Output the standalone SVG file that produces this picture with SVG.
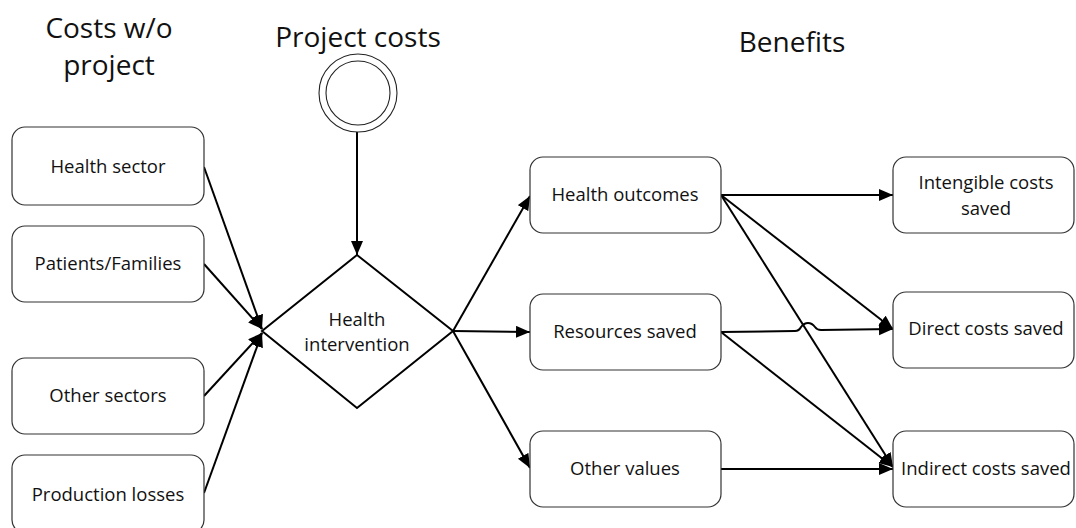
<svg xmlns="http://www.w3.org/2000/svg" width="1076" height="528" viewBox="0 0 1076 528">
  <style>
    .box { fill: #ffffff; stroke: #333333; stroke-width: 1.2; }
    .lbl { font-family: "Open Sans", "Liberation Sans", sans-serif; font-size: 18.5px; fill: #111111; text-anchor: middle; }
    .title { font-family: "Open Sans", "Liberation Sans", sans-serif; font-size: 28px; fill: #111111; text-anchor: middle; }
    .edge { fill: none; stroke: #000000; stroke-width: 2; marker-end: url(#arrow); }
    .diamond { fill: #ffffff; stroke: #000000; stroke-width: 2; }
    .ring { fill: #ffffff; stroke: #222222; stroke-width: 1.1; }
  </style>
  <defs>
    <marker id="arrow" markerUnits="userSpaceOnUse" markerWidth="15" markerHeight="13" refX="14" refY="6" orient="auto">
      <path d="M0,0 L14,6 L0,12 z" fill="#000000"/>
    </marker>
  </defs>

  <rect width="1076" height="528" fill="#ffffff"/>

  <!-- column headings -->
  <g id="headings">
    <text class="title" x="109" y="38">Costs w/o</text>
    <text class="title" x="109" y="75">project</text>
    <text class="title" x="358" y="47">Project costs</text>
    <text class="title" x="792" y="52">Benefits</text>
  </g>

  <!-- connectors -->
  <g id="connectors">
    <line class="edge" x1="204" y1="167" x2="262" y2="329"/>
    <line class="edge" x1="204" y1="264" x2="262" y2="329"/>
    <line class="edge" x1="204" y1="396" x2="262" y2="333"/>
    <line class="edge" x1="204" y1="493" x2="262" y2="333"/>
    <line class="edge" x1="357" y1="132" x2="357" y2="255"/>
    <line class="edge" x1="453" y1="331" x2="530" y2="196"/>
    <line class="edge" x1="453" y1="331" x2="530" y2="332"/>
    <line class="edge" x1="453" y1="331" x2="530" y2="468"/>
    <line class="edge" x1="721" y1="195" x2="893" y2="195"/>
    <line class="edge" x1="721" y1="195" x2="893" y2="329"/>
    <line class="edge" x1="721" y1="195" x2="893" y2="467"/>
    <!-- line jump over the Health outcomes -> Indirect costs connector -->
    <path class="edge" d="M721,332 L795,331 Q799,331 801,327 Q804,323 808,323 Q812,323 815,327 Q817,330 821,330 L893,329"/>
    <line class="edge" x1="721" y1="332" x2="893" y2="467"/>
    <line class="edge" x1="721" y1="469" x2="893" y2="469"/>
  </g>

  <!-- cost sources -->
  <g id="health-sector">
    <rect class="box" x="12" y="127" width="192" height="78" rx="13"/>
    <text class="lbl" x="108" y="173">Health sector</text>
  </g>
  <g id="patients-families">
    <rect class="box" x="12" y="226" width="192" height="76" rx="13"/>
    <text class="lbl" x="108" y="270">Patients/Families</text>
  </g>
  <g id="other-sectors">
    <rect class="box" x="12" y="358" width="192" height="76" rx="13"/>
    <text class="lbl" x="108" y="402">Other sectors</text>
  </g>
  <g id="production-losses">
    <rect class="box" x="12" y="455" width="192" height="78" rx="13"/>
    <text class="lbl" x="108" y="501">Production losses</text>
  </g>

  <!-- project cost start event -->
  <g id="project-costs">
    <circle class="ring" cx="358" cy="93" r="39"/>
    <circle class="ring" cx="358" cy="93" r="32"/>
  </g>

  <!-- intervention decision -->
  <g id="health-intervention">
    <polygon class="diamond" points="357,255 453,331 357,408 262,331"/>
    <text class="lbl" x="357" y="326">Health</text>
    <text class="lbl" x="357" y="351">intervention</text>
  </g>

  <!-- benefit categories -->
  <g id="health-outcomes">
    <rect class="box" x="530" y="157" width="191" height="76" rx="13"/>
    <text class="lbl" x="625" y="201">Health outcomes</text>
  </g>
  <g id="resources-saved">
    <rect class="box" x="530" y="294" width="191" height="76" rx="13"/>
    <text class="lbl" x="625" y="338">Resources saved</text>
  </g>
  <g id="other-values">
    <rect class="box" x="530" y="431" width="191" height="76" rx="13"/>
    <text class="lbl" x="625" y="475">Other values</text>
  </g>

  <!-- savings -->
  <g id="intangible-costs-saved">
    <rect class="box" x="893" y="157" width="181" height="76" rx="13"/>
    <text class="lbl" x="986" y="189">Intengible costs</text>
    <text class="lbl" x="986" y="215">saved</text>
  </g>
  <g id="direct-costs-saved">
    <rect class="box" x="893" y="292" width="181" height="76" rx="13"/>
    <text class="lbl" x="986" y="335">Direct costs saved</text>
  </g>
  <g id="indirect-costs-saved">
    <rect class="box" x="893" y="431" width="181" height="76" rx="13"/>
    <text class="lbl" x="986" y="475">Indirect costs saved</text>
  </g>
</svg>
